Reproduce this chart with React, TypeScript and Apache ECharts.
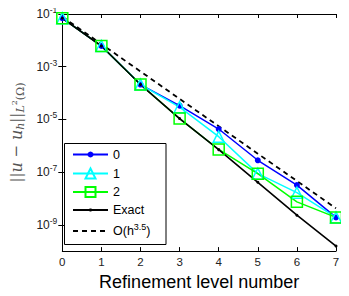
import React, { useEffect, useRef } from "react";
import * as echarts from "echarts";

const levels = [0, 1, 2, 3, 4, 5, 6, 7];
const err0 = [6.9e-2, 6.1e-3, 2.1e-4, 3.3e-5, 4.3e-6, 2.8e-7, 3.2e-8, 1.9e-9];
const err1 = [6.9e-2, 6.1e-3, 2.1e-4, 2.9e-5, 2.2e-6, 8.7e-8, 1.65e-8, 1.9e-9];
const err2 = [6.9e-2, 6.1e-3, 2.1e-4, 1.07e-5, 7.2e-7, 8.7e-8, 7.4e-9, 1.9e-9];
const exact = [6.9e-2, 6.1e-3, 2.1e-4, 1.07e-5, 7.1e-7, 4.1e-8, 2.3e-9, 1.55e-10];
const ref35 = [7.9e-2, 7.2e-3, 6.6e-4, 6.0e-5, 5.5e-6, 5.0e-7, 4.6e-8, 4.2e-9];
const seriesNames = ["0", "1", "2", "Exact", "O"];
const yTickExps = [-9, -7, -5, -3, -1];
const xTicks = [0, 1, 2, 3, 4, 5, 6, 7];

const toPts = (arr: number[]) => levels.map((x, i) => [x, Math.log10(arr[i])]);

export default function App() {
  const ref = useRef<HTMLDivElement>(null);
  useEffect(() => {
    const chart = echarts.init(ref.current!, null, { renderer: "svg" });
    const font = "Liberation Sans";
    const axisCommon = {
      axisLine: { show: true, lineStyle: { color: "#000", width: 1 } },
      axisTick: { show: true, inside: true, length: 4, lineStyle: { color: "#000" } },
      splitLine: { show: false },
    };
    const legendCenters = [155, 173, 191.5, 210.5, 229.5];
    const legendSymbolH = [7.5, 12.5, 12.5, 4, 12];
    const legends = seriesNames.map((n, i) => ({
      orient: "horizontal",
      left: 72,
      top: legendCenters[i] - Math.max(legendSymbolH[i], 14) / 2,
      data: [n],
      itemWidth: 35,
      itemHeight: legendSymbolH[i],
      itemGap: 4,
      padding: 0,
      selectedMode: false,
      z: 10,
      ...(n === "O" ? { itemStyle: { color: "transparent", borderColor: "transparent", borderWidth: 0 } } : {}),
      formatter: (s: string) => (s === "O" ? "{a|O(h}{s|3.5}{a|)}" : "{a|" + s + "}"),
      textStyle: {
        fontFamily: font,
        fontSize: 12,
        color: "#000",
        padding: [0, 0, 0, 0],
        rich: {
          a: { fontFamily: font, fontSize: 12.5, color: "#000", height: 14 },
          s: { fontFamily: font, fontSize: 9, color: "#000", verticalAlign: "bottom", padding: [0, 0, 8, 0] },
        },
      },
    }));
    chart.setOption({
      animation: false,
      grid: { left: 57, right: 13, top: 14, bottom: 38, containLabel: false },
      graphic: [
        {
          type: "rect",
          left: 64,
          top: 143,
          z: 5,
          shape: { width: 101.5, height: 101 },
          style: { fill: "#fff", stroke: "#000", lineWidth: 1 },
        },
      ],
      legend: legends,
      xAxis: [
        {
          type: "value",
          min: 0,
          max: 7,
          interval: 1,
          ...axisCommon,
          axisLabel: { fontFamily: font, fontSize: 11.5, color: "#222", margin: 5, customValues: xTicks },
          name: "Refinement level number",
          nameLocation: "middle",
          nameGap: 20,
          nameTextStyle: { fontFamily: font, fontSize: 18, color: "#000" },
        },
        {
          type: "value",
          position: "top",
          min: 0,
          max: 7,
          interval: 1,
          ...axisCommon,
          axisLabel: { show: false },
        },
      ],
      yAxis: [
        {
          type: "value",
          min: -10,
          max: -1,
          interval: 1,
          ...axisCommon,
          axisTick: { ...axisCommon.axisTick, customValues: yTickExps },
          axisLabel: {
            customValues: yTickExps,
            margin: 5,
            formatter: (v: number) => "{b|10}{s|" + v + "}",
            rich: {
              b: { fontFamily: font, fontSize: 12, color: "#222" },
              s: { fontFamily: font, fontSize: 8.5, color: "#222", verticalAlign: "bottom", padding: [0, 0, 8, 0] },
            },
          },
          name: "{n|||}{i|u}{n| − }{i|u}{si|h}{n|||}{si|L}{ss|2}{sn|(Ω)}",
          nameLocation: "middle",
          nameRotate: 90,
          nameGap: 32,
          nameTextStyle: {
            rich: {
              n: { fontFamily: "DejaVu Serif", fontSize: 15, color: "#555" },
              i: { fontFamily: "DejaVu Serif", fontStyle: "italic", fontSize: 16, color: "#555" },
              si: { fontFamily: "DejaVu Serif", fontStyle: "italic", fontSize: 11, color: "#555", verticalAlign: "top", padding: [8, 0, 0, 0] },
              ss: { fontFamily: "DejaVu Serif", fontSize: 8, color: "#555", verticalAlign: "top", padding: [4, 0, 0, 0] },
              sn: { fontFamily: "DejaVu Serif", fontSize: 11, color: "#555", verticalAlign: "top", padding: [8, 0, 0, 0] },
            },
          },
        },
        {
          type: "value",
          position: "right",
          min: -10,
          max: -1,
          interval: 1,
          ...axisCommon,
          axisTick: { ...axisCommon.axisTick, customValues: yTickExps },
          axisLabel: { show: false },
        },
      ],
      series: [
        {
          name: "0",
          type: "line",
          data: toPts(err0),
          color: "#0000ff",
          lineStyle: { width: 1.5, color: "#0000ff" },
          symbol: "circle",
          symbolSize: 6,
          itemStyle: { color: "#0000ff" },
        },
        {
          name: "1",
          type: "line",
          data: toPts(err1),
          color: "#00ffff",
          lineStyle: { width: 1.5, color: "#00ffff" },
          symbol: "triangle",
          symbolSize: 11,
          itemStyle: { color: "none", borderColor: "#00ffff", borderWidth: 1.5 },
        },
        {
          name: "2",
          type: "line",
          data: toPts(err2),
          color: "#00ff00",
          lineStyle: { width: 1.5, color: "#00ff00" },
          symbol: "rect",
          symbolSize: 11,
          itemStyle: { color: "none", borderColor: "#00ff00", borderWidth: 1.5 },
        },
        {
          name: "Exact",
          type: "line",
          data: toPts(exact),
          color: "#000",
          lineStyle: { width: 1.6, color: "#000" },
          symbol: "circle",
          symbolSize: 3,
          itemStyle: { color: "#000" },
        },
        {
          name: "O",
          type: "line",
          data: toPts(ref35),
          color: "#000",
          lineStyle: { width: 1.8, color: "#000", type: [5, 4] },
          symbol: "none",
          showSymbol: false,
        },
      ],
    });
    return () => chart.dispose();
  }, []);
  return <div ref={ref} style={{ width: 349, height: 296, margin: -8 }} />;
}
